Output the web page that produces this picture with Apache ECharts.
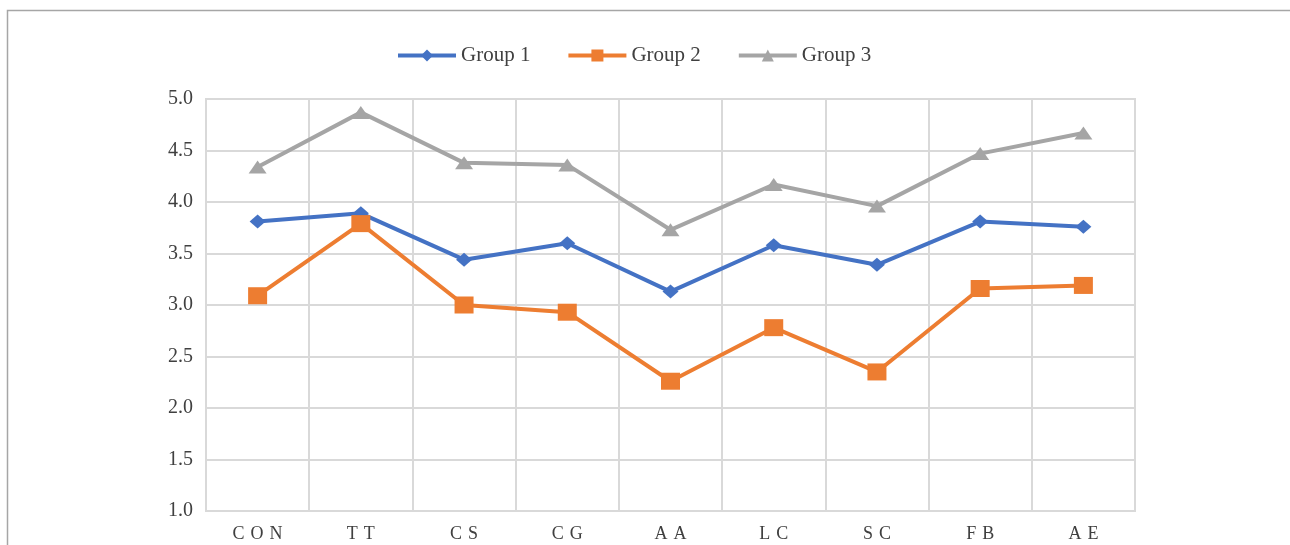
<!DOCTYPE html>
<html>
<head>
<meta charset="utf-8">
<script src="https://cdn.jsdelivr.net/npm/echarts@6/dist/echarts.min.js"></script>
<style>
html,body{margin:0;padding:0;background:#fff;}
#chart{width:1290px;height:545px;}
</style>
</head>
<body>
<div id="chart"></div>
<script>
const categories = ["CON", "TT", "CS", "CG", "AA", "LC", "SC", "FB", "AE"];
const group1 = [3.81, 3.89, 3.44, 3.60, 3.13, 3.58, 3.39, 3.81, 3.76];
const group2 = [3.09, 3.79, 3.00, 2.93, 2.26, 2.78, 2.35, 3.16, 3.19];
const group3 = [4.34, 4.87, 4.38, 4.36, 3.73, 4.17, 3.96, 4.47, 4.67];
const seriesNames = ["Group 1", "Group 2", "Group 3"];

const font = '"Liberation Serif", "DejaVu Serif", serif';
const textColor = '#404040';
const gridColor = '#d9d9d9';

const chart = echarts.init(document.getElementById('chart'));
chart.setOption({
  animation: false,
  backgroundColor: '#fff',
  graphic: [{
    type: 'rect',
    shape: { x: 7.5, y: 10.5, width: 1400, height: 700 },
    style: { fill: 'none', stroke: '#a6a6a6', lineWidth: 1.5 },
    silent: true
  }],
  legend: {
    top: 40,
    left: 391,
    itemWidth: 58,
    itemHeight: 15,
    itemGap: 36,
    lineStyle: { width: 4 },
    textStyle: { fontFamily: font, fontSize: 21, color: textColor },
    data: seriesNames
  },
  grid: {
    left: 206, right: 155, top: 99, bottom: 34,
    show: true, borderColor: gridColor, borderWidth: 2
  },
  xAxis: {
    type: 'category',
    data: categories,
    boundaryGap: true,
    axisLine: { show: false },
    axisTick: { show: false },
    axisLabel: {
      margin: 14,
      fontFamily: font, fontSize: 18, color: textColor,
      formatter: v => v.split('').join(' \u200a')
    },
    splitLine: { show: true, lineStyle: { color: gridColor, width: 2 } }
  },
  yAxis: {
    type: 'value',
    min: 1, max: 5, interval: 0.5,
    axisLine: { show: false },
    axisTick: { show: false },
    axisLabel: {
      margin: 13,
      fontFamily: font, fontSize: 20, color: textColor,
      formatter: v => v.toFixed(1)
    },
    splitLine: { lineStyle: { color: gridColor, width: 2 } }
  },
  series: [
    {
      name: seriesNames[0], type: 'line', data: group1,
      symbol: 'diamond', symbolSize: [16, 14],
      lineStyle: { color: '#4472C4', width: 4 },
      itemStyle: { color: '#4472C4' }
    },
    {
      name: seriesNames[1], type: 'line', data: group2,
      symbol: 'rect', symbolSize: [19, 17],
      lineStyle: { color: '#ED7D31', width: 4 },
      itemStyle: { color: '#ED7D31' }
    },
    {
      name: seriesNames[2], type: 'line', data: group3,
      symbol: 'triangle', symbolSize: [18, 13],
      lineStyle: { color: '#A5A5A5', width: 4 },
      itemStyle: { color: '#A5A5A5' }
    }
  ]
});
</script>
</body>
</html>
